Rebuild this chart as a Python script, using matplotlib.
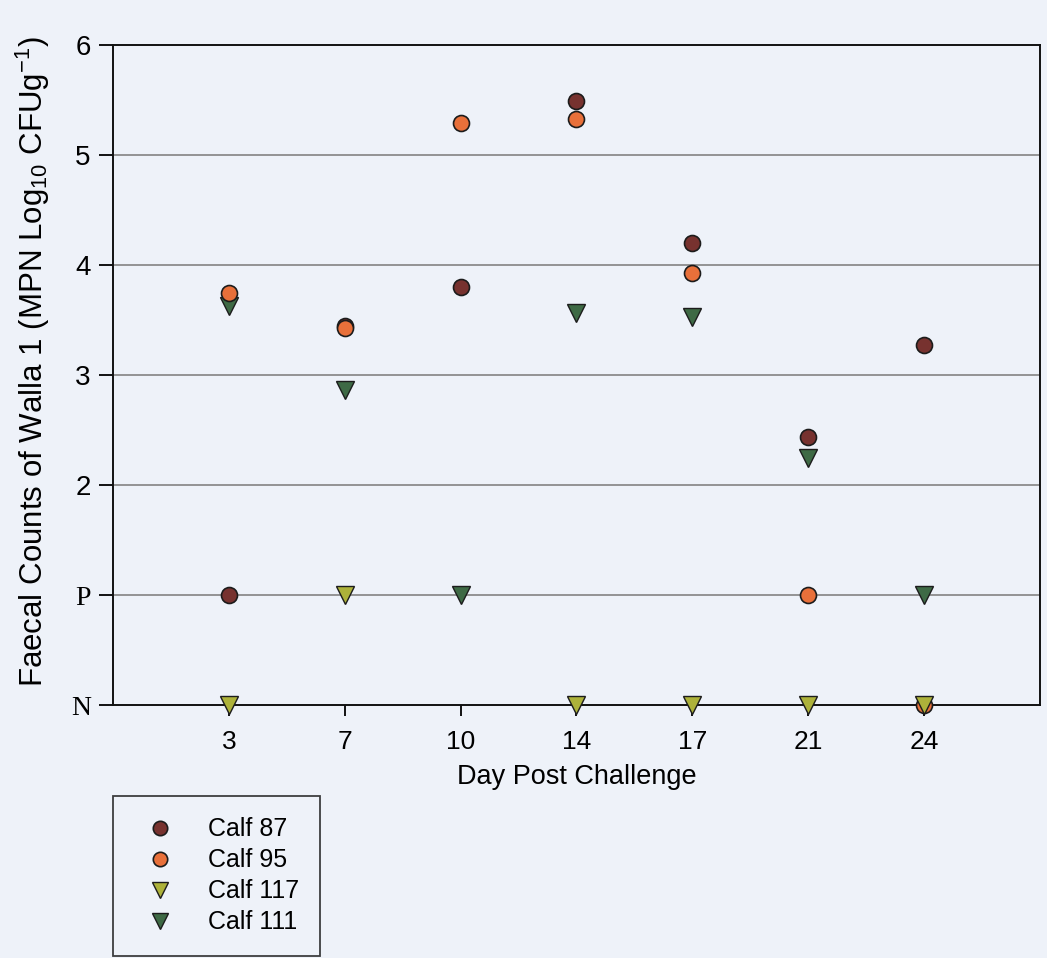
import matplotlib.pyplot as plt
import numpy as np

plt.rcParams['mathtext.fontset'] = 'custom'
plt.rcParams['mathtext.rm'] = 'Liberation Sans'
plt.rcParams['mathtext.it'] = 'Liberation Sans:italic'

# days sampled after challenge, plotted as evenly spaced categories
days = ['3', '7', '10', '14', '17', '21', '24']

# y scale: N (not detected) = 0, P (presence only) = 1, then log10 counts
calf87 = [1.0, 3.45, 3.80, 5.49, 4.20, 2.44, 3.27]
calf95 = [3.75, 3.43, 5.29, 5.33, 3.93, 1.0, 0.0]
calf117 = [0.0, 1.0, np.nan, 0.0, 0.0, 0.0, 0.0]
calf111 = [3.63, 2.86, 1.0, 3.56, 3.53, 2.25, 1.0]

ytick_vals = [0, 1, 2, 3, 4, 5, 6]
ytick_labels = ['N', 'P', '2', '3', '4', '5', '6']

bg = '#eef2f9'
fig = plt.figure(figsize=(10.47, 9.58), dpi=100, facecolor=bg)
ax = fig.add_axes([0.108, 0.264, 0.885, 0.689], facecolor=bg)

x = np.arange(1, len(days) + 1)

for yv in [1, 2, 3, 4, 5]:
    ax.axhline(yv, color='#8c8c8c', lw=1.3, zorder=1)

ms = 11.5
h111, = ax.plot(x, calf111, 'v', ms=ms + 1, mfc='#3e6a45', mec='#1c1c1c', mew=1.0,
                ls='none', label='Calf 111', zorder=3, clip_on=False)
h87, = ax.plot(x, calf87, 'o', ms=ms, mfc='#77322f', mec='#1c1c1c', mew=1.2,
               ls='none', label='Calf 87', zorder=4, clip_on=False)
h95, = ax.plot(x, calf95, 'o', ms=ms, mfc='#e8703a', mec='#1c1c1c', mew=1.2,
               ls='none', label='Calf 95', zorder=5, clip_on=False)
h117, = ax.plot(x, calf117, 'v', ms=ms + 1, mfc='#adb23a', mec='#1c1c1c', mew=1.0,
                ls='none', label='Calf 117', zorder=6, clip_on=False)

ax.set_xlim(0, 8)
ax.set_ylim(0, 6)
ax.set_xticks(x)
ax.set_xticklabels(days, fontsize=19, family='Liberation Sans')
ax.set_yticks(ytick_vals)
ax.set_yticklabels(ytick_labels)
for lab in ax.get_yticklabels():
    if lab.get_text() in ('N', 'P'):
        lab.set_family('Liberation Serif')
        lab.set_fontsize(20)
    else:
        lab.set_family('Liberation Sans')
        lab.set_fontsize(20)

ax.tick_params(axis='y', direction='out', length=10, width=1.3, pad=6)
ax.tick_params(axis='x', direction='out', length=8, width=1.3, pad=10)
for s in ax.spines.values():
    s.set_linewidth(1.4)
    s.set_color('#111111')

ax.set_xlabel('Day Post Challenge', fontsize=19.5, family='Liberation Sans', labelpad=7)
ax.set_ylabel(r'Faecal Counts of Walla 1 (MPN Log$_{\mathregular{10}}$ CFUg$^{\mathregular{-1}}$)',
              fontsize=22.5, family='Liberation Sans')
ax.yaxis.set_label_coords(-0.066, 0.521)

leg = fig.legend(handles=[h87, h95, h117, h111], loc='upper left',
                 bbox_to_anchor=(0.108, 0.169), frameon=True, fancybox=False,
                 prop={'family': 'Liberation Sans', 'size': 18},
                 handletextpad=0.9, labelspacing=0.28, borderpad=0.85,
                 borderaxespad=0, handlelength=2.05, markerscale=0.9)
leg.get_frame().set_edgecolor('#111111')
leg.get_frame().set_facecolor(bg)
leg.get_frame().set_linewidth(1.3)

fig.savefig('out.png', dpi=100, facecolor=bg)
